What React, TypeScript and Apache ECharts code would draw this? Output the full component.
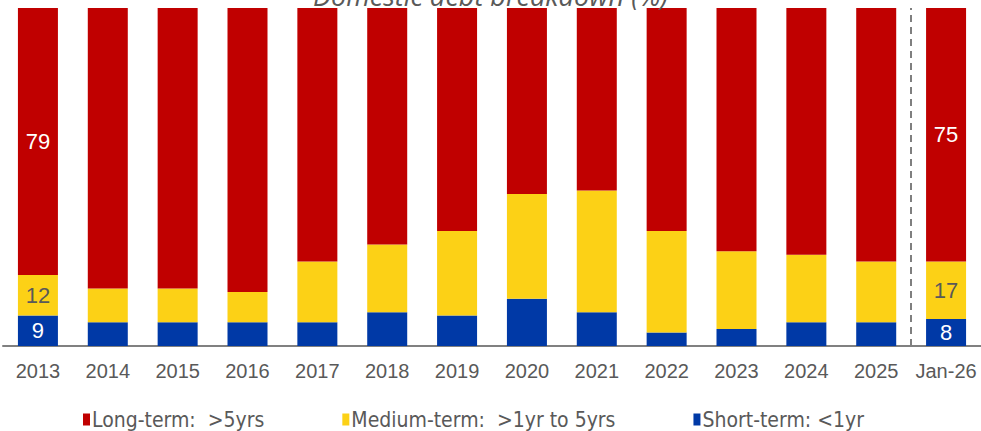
import React, { useEffect, useRef } from "react";
import * as echarts from "echarts";

const categories = ["2013", "2014", "2015", "2016", "2017", "2018", "2019", "2020", "2021", "2022", "2023", "2024", "2025", "Jan-26"];
const shortTerm = [9, 7, 7, 7, 7, 10, 9, 14, 10, 4, 5, 7, 7, 8];
const mediumTerm = [12, 10, 10, 9, 18, 20, 25, 31, 36, 30, 23, 20, 18, 17];
const longTerm = [79, 83, 83, 84, 75, 70, 66, 55, 54, 66, 72, 73, 75, 75];
const seriesNames = ["Long-term:  >5yrs", "Medium-term:  >1yr to 5yrs", "Short-term: <1yr"];
const labelledIndexes = [0, 13];
const dividerPosition = 13;

const FONT = "'Liberation Sans', Arial, sans-serif";

function withLabels(values: number[], color: string) {
  return values.map((v, i) =>
    labelledIndexes.includes(i)
      ? { value: v, label: { show: true, position: "inside", color, fontSize: 22, fontFamily: FONT, formatter: "{c}" } }
      : v
  );
}

export default function App() {
  const ref = useRef<HTMLDivElement>(null);
  useEffect(() => {
    if (!ref.current) return;
    const chart = echarts.init(ref.current, undefined, { renderer: "svg" });
    chart.setOption({
      animation: false,
      title: {
        text: "Domestic debt breakdown (%)",
        left: "center",
        top: -23,
        textStyle: { fontStyle: "italic", fontWeight: "normal", fontSize: 27, color: "#595959", fontFamily: "'Open Sans', sans-serif" },
      },
      legend: {
        data: seriesNames,
        left: 78,
        top: 404,
        itemWidth: 7,
        itemHeight: 12,
        itemGap: 78,
        icon: "rect",
        textStyle: { fontSize: 21, color: "#595959", fontFamily: "'Liberation Sans Narrow', 'DejaVu Sans Condensed', sans-serif", padding: [0, 0, 0, -3] },
      },
      grid: { left: 3, right: -2, top: 8, bottom: 85, containLabel: false },
      xAxis: [
        {
          type: "category",
          data: categories,
          axisTick: { show: false },
          axisLine: { lineStyle: { color: "#808080", width: 2 } },
          axisLabel: { color: "#595959", fontSize: 20, fontFamily: FONT, margin: 15, interval: 0 },
        },
        { type: "value", min: 0, max: categories.length, show: false },
      ],
      yAxis: { type: "value", min: 0, max: 100, show: false, splitLine: { show: false } },
      series: [
        {
          name: seriesNames[2],
          type: "bar",
          stack: "debt",
          barWidth: 40,
          itemStyle: { color: "#0039A6" },
          data: withLabels(shortTerm, "#ffffff"),
        },
        {
          name: seriesNames[1],
          type: "bar",
          stack: "debt",
          barWidth: 40,
          itemStyle: { color: "#FCD116" },
          data: withLabels(mediumTerm, "#595959"),
        },
        {
          name: seriesNames[0],
          type: "bar",
          stack: "debt",
          barWidth: 40,
          itemStyle: { color: "#C00000" },
          data: withLabels(longTerm, "#ffffff"),
        },
        {
          type: "line",
          xAxisIndex: 1,
          data: [],
          markLine: {
            silent: true,
            symbol: "none",
            label: { show: false },
            lineStyle: { type: [7, 5], color: "#7f7f7f", width: 2 },
            data: [{ xAxis: dividerPosition }],
          },
        },
      ],
    });
    return () => chart.dispose();
  }, []);
  return <div ref={ref} style={{ width: 981, height: 431, position: "absolute", left: 0, top: 0 }} />;
}
